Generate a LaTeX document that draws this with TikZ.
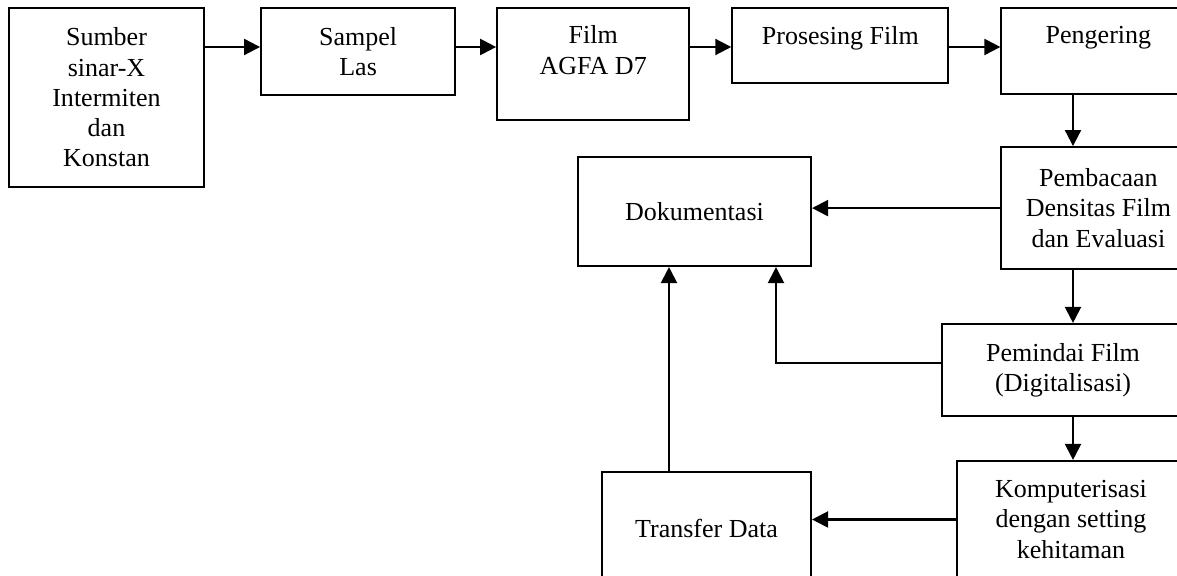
\documentclass[tikz,border=0pt]{standalone}
\usepackage{fontspec}
\setmainfont{Liberation Serif}
\usetikzlibrary{arrows.meta, positioning}

\begin{document}
\begin{tikzpicture}[
      block/.style={rectangle, draw, line width=1.2pt, align=center, inner sep=2pt, font=\fontsize{14.8}{17.2}\selectfont},
      arrow/.style={-{Triangle[length=0.32cm, width=0.32cm]}, line width=1.2pt}
    ]
    \useasboundingbox (0,0) rectangle (23.54,11.52);
    \clip (0,0) rectangle (23.54,11.52);

    % top row, every box hangs from the same top line
    \node[block, minimum width=3.9cm, minimum height=3.58cm] (sumber) at (2.13,9.57) {Sumber\\sinar-X\\Intermiten\\dan\\Konstan};
    \node[block, minimum width=3.88cm, minimum height=1.74cm, right=1.1cm of sumber.north east, anchor=north west] (sampel) {Sampel\\Las};
    \node[block, minimum width=3.84cm, minimum height=2.24cm, text depth=0.56cm, right=0.8cm of sampel.north east, anchor=north west] (film) {Film\\AGFA D7};
    \node[block, minimum width=4.32cm, minimum height=1.5cm, text depth=0.41cm, right=0.82cm of film.north east, anchor=north west] (proses) {Prosesing Film};
    \node[block, minimum width=3.88cm, minimum height=1.72cm, text depth=0.63cm, right=1.02cm of proses.north east, anchor=north west] (kering) {Pengering};

    % right column going down
    \node[block, minimum width=3.88cm, minimum height=2.44cm, below=1.02cm of kering.south west, anchor=north west] (baca) {Pembacaan\\Densitas Film\\dan Evaluasi};
    \node[block, minimum width=4.84cm, minimum height=1.84cm] (pindai) at (21.26,4.12) {Pemindai Film\\(Digitalisasi)};
    \node[block, minimum width=4.56cm, minimum height=2.34cm] (komputer) at (21.42,1.13) {Komputerisasi\\dengan setting\\kehitaman};

    % middle column
    \node[block, minimum width=4.66cm, minimum height=2.18cm] (dok) at (13.89,7.29) {Dokumentasi};
    \node[block, minimum width=4.18cm, minimum height=2.24cm] (transfer) at (14.13,0.96) {Transfer Data};

    \coordinate (row) at (0,10.58);
    \coordinate (col) at (21.46,0);
    \coordinate (tap) at (15.52,4.26);
    \coordinate (up) at (13.38,0);

    \draw[arrow] (sumber.east |- row) -- (sampel.west |- row);
    \draw[arrow] (sampel.east |- row) -- (film.west |- row);
    \draw[arrow] (film.east |- row) -- (proses.west |- row);
    \draw[arrow] (proses.east |- row) -- (kering.west |- row);

    \draw[arrow] (kering.south -| col) -- (baca.north -| col);
    \draw[arrow] (baca.south -| col) -- (pindai.north -| col);
    \draw[arrow] (pindai.south -| col) -- (komputer.north -| col);

    \draw[arrow] (baca.west) -- (baca.west -| dok.east);
    \draw[arrow] (pindai.west |- tap) -| (dok.south -| tap);
    \draw[arrow] (komputer.west) -- (komputer.west -| transfer.east);
    \draw[arrow] (transfer.north -| up) -- (dok.south -| up);
  \end{tikzpicture}
\end{document}
